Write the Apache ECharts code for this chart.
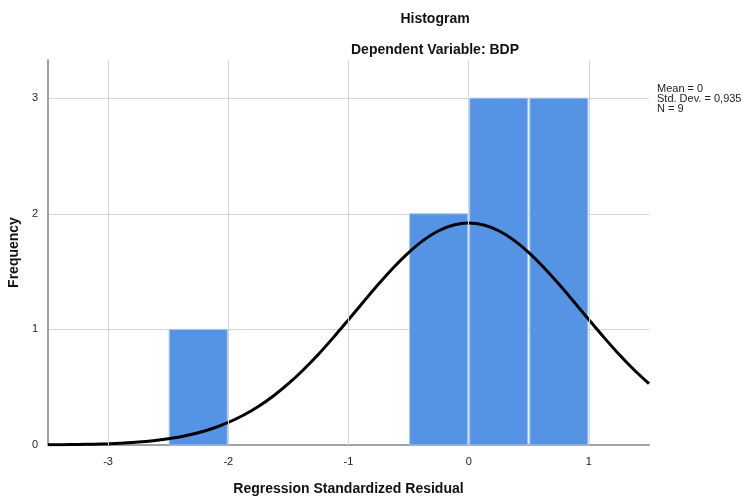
<!DOCTYPE html>
<html><head><meta charset="utf-8">
<script src="https://cdn.jsdelivr.net/npm/echarts@6/dist/echarts.min.js"></script>
<style>html,body{margin:0;padding:0;background:#fff}#c{width:750px;height:498px}</style>
</head><body><div id="c"></div>
<script>
// Histogram bins (left edge of each bin) and frequencies
const binStarts = [-2.5, -0.5, 0, 0.5];
const frequencies = [1, 2, 3, 3];
const binWidth = 0.5;
// Normal curve
const curveX = [-3.5,-3.375,-3.25,-3.125,-3,-2.875,-2.75,-2.625,-2.5,-2.375,-2.25,-2.125,-2,-1.875,-1.75,-1.625,-1.5,-1.375,-1.25,-1.125,-1,-0.875,-0.75,-0.625,-0.5,-0.375,-0.25,-0.125,0,0.125,0.25,0.375,0.5,0.625,0.75,0.875,1,1.125,1.25,1.375,1.5];
const curveY = [0.002,0.003,0.005,0.007,0.011,0.017,0.025,0.037,0.054,0.076,0.106,0.145,0.195,0.257,0.333,0.424,0.53,0.651,0.785,0.931,1.084,1.239,1.392,1.536,1.664,1.772,1.853,1.903,1.92,1.903,1.853,1.772,1.664,1.536,1.392,1.239,1.084,0.931,0.785,0.651,0.53];
const xTicks = [-3, -2, -1, 0, 1];
const statsLines = ['Mean = 0', 'Std. Dev. = 0,935', 'N = 9'];

const FONT = '"Liberation Sans", Arial, sans-serif';
const chart = echarts.init(document.getElementById('c'), null, {renderer: 'canvas'});
const barData = binStarts.map((s, i) => [s, s + binWidth, frequencies[i]]);
chart.setOption({
  animation: false,
  backgroundColor: '#fff',
  title: [
    {text: 'Histogram', left: 430, top: 7, textAlign: 'center',
     textStyle: {fontFamily: FONT, fontSize: 14, fontWeight: 'bold', color: '#111'}},
    {text: 'Dependent Variable: BDP', left: 430, top: 38, textAlign: 'center',
     textStyle: {fontFamily: FONT, fontSize: 14, fontWeight: 'bold', color: '#111'}}
  ],
  graphic: [{
    type: 'text', left: 657, top: 83,
    style: {text: statsLines.join('\n'), font: '11px ' + FONT, fill: '#222', lineHeight: 10}
  }],
  grid: {left: 48, right: 101, top: 60, bottom: 53, containLabel: false, outerBoundsMode: 'none'},
  xAxis: {
    type: 'value', min: -3.5, max: 1.5, interval: 0.5,
    name: 'Regression Standardized Residual', nameLocation: 'middle', nameGap: 37,
    nameTextStyle: {fontFamily: FONT, fontSize: 14, fontWeight: 'bold', color: '#111'},
    axisLine: {show: true, onZero: false, lineStyle: {color: '#a0a0a0', width: 2}},
    axisTick: {show: false},
    splitLine: {show: false},
    axisLabel: {fontFamily: FONT, fontSize: 11, color: '#222', margin: 11,
      showMinLabel: true, showMaxLabel: true,
      formatter: v => (Math.abs(v - Math.round(v)) < 1e-9 && xTicks.includes(Math.round(v))) ? String(Math.round(v)) : ''}
  },
  yAxis: {
    type: 'value', min: 0, max: 3.33, interval: 1,
    name: 'Frequency', nameLocation: 'middle', nameGap: 25,
    nameTextStyle: {fontFamily: FONT, fontSize: 14, fontWeight: 'bold', color: '#111'},
    axisLine: {show: true, onZero: false, lineStyle: {color: '#a0a0a0', width: 2}},
    axisTick: {show: false},
    splitLine: {show: true, showMinLine: false, showMaxLine: false, lineStyle: {color: '#d4d4d4', width: 1}},
    axisLabel: {fontFamily: FONT, fontSize: 11, color: '#222', margin: 10, showMaxLabel: false}
  },
  series: [
    {
      type: 'line', data: [], z: 1, silent: true,
      markLine: {
        symbol: 'none', silent: true, label: {show: false},
        lineStyle: {color: '#d4d4d4', width: 1, type: 'solid'},
        data: xTicks.map(v => ({xAxis: v}))
      }
    },
    {
      type: 'custom', z: 2,
      data: barData,
      renderItem: function (params, api) {
        const p0 = api.coord([api.value(0), api.value(2)]);
        const p1 = api.coord([api.value(1), 0]);
        return {
          type: 'rect',
          shape: {x: p0[0] + 1, y: p0[1], width: p1[0] - p0[0] - 2, height: p1[1] - p0[1]},
          style: {fill: '#5593e5', stroke: '#a9c6f0', lineWidth: 1}
        };
      },
      encode: {x: [0, 1], y: 2}
    },
    {
      type: 'line', z: 3, smooth: 0.3, symbol: 'none',
      data: curveX.map((x, i) => [x, curveY[i]]),
      lineStyle: {color: '#000', width: 3}
    }
  ]
});
</script></body></html>
